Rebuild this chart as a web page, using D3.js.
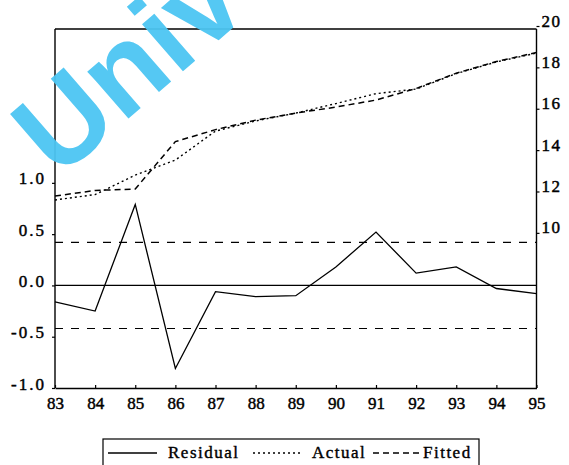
<!DOCTYPE html>
<html>
<head>
<meta charset="utf-8">
<script src="https://cdn.jsdelivr.net/npm/d3@7"></script>
<style>
  html, body { margin: 0; padding: 0; background: #fff; }
  svg { display: block; }
</style>
</head>
<body>
<svg id="chart" width="569" height="465"></svg>
<script>
// ---- data ----
const years = [83, 84, 85, 86, 87, 88, 89, 90, 91, 92, 93, 94, 95];
const residual = [-0.16, -0.25, 0.79, -0.81, -0.06, -0.11, -0.10, 0.18, 0.52, 0.12, 0.18, -0.03, -0.08];
const actual   = [11.59, 11.85, 12.79, 13.52, 14.92, 15.41, 15.79, 16.25, 16.73, 16.95, 17.70, 18.26, 18.69];
const fitted   = [11.78, 12.05, 12.12, 14.41, 14.99, 15.45, 15.79, 16.08, 16.42, 16.98, 17.72, 18.28, 18.72];
const seBand = [0.42, -0.42];
const leftTicks = [-1.0, -0.5, 0.0, 0.5, 1.0];
const rightTicks = [10, 12, 14, 16, 18, 20];
const legendItems = ["Residual", "Actual", "Fitted"];
const watermark = "Univ";

const svg = d3.select("#chart");
const FONT = "'Liberation Serif', 'Times New Roman', serif";

const x = d3.scaleLinear().domain([83, 95]).range([55, 536.5]);
const yL = d3.scaleLinear().domain([-1, 2.5]).range([388, 29]);
const yR = d3.scaleLinear().domain([2.5, 20]).range([388, 26]);

// frame top line
svg.append("line")
  .attr("x1", x(83)).attr("x2", x(95))
  .attr("y1", 29).attr("y2", 29)
  .attr("stroke", "#000").attr("stroke-width", 1.4);

// left axis
const gL = svg.append("g").attr("transform", `translate(${x(83)},0)`)
  .call(d3.axisLeft(yL).tickValues(leftTicks).tickFormat(d => d.toFixed(1))
        .tickSizeInner(3).tickSizeOuter(0).tickPadding(6));
// right axis
const gR = svg.append("g").attr("transform", `translate(${x(95)},0)`)
  .call(d3.axisRight(yR).tickValues(rightTicks).tickFormat(d => d)
        .tickSizeInner(3).tickSizeOuter(0).tickPadding(2));
// bottom axis
const gB = svg.append("g").attr("transform", `translate(0,${yL(-1)})`)
  .call(d3.axisBottom(x).tickValues(years).tickFormat(d => d)
        .tickSizeInner(-3).tickSizeOuter(0).tickPadding(9));

[gL, gR, gB].forEach(g => {
  g.select(".domain").attr("stroke", "#000").attr("stroke-width", 1.4);
  g.selectAll(".tick line").attr("stroke", "#000").attr("stroke-width", 1.2);
  g.selectAll("text").attr("fill", "#000")
    .attr("stroke", "#000").attr("stroke-width", 0.45)
    .style("font-family", FONT).style("font-size", "17px");
});
gL.selectAll("text").attr("dy", 1).style("letter-spacing", "2px");
gR.selectAll("text").attr("dy", 0).style("letter-spacing", "1.5px");
gR.select(".domain").attr("d", `M0,${yR.range()[0]}V29`);
gL.select(".domain").attr("d", `M0,${yL.range()[0]}V29`);

// zero line and +/- SE band
svg.append("line")
  .attr("x1", x(83)).attr("x2", x(95))
  .attr("y1", yL(0)).attr("y2", yL(0))
  .attr("stroke", "#000").attr("stroke-width", 1.2);
seBand.forEach(v => {
  svg.append("line")
    .attr("x1", x(83)).attr("x2", x(95))
    .attr("y1", yL(v)).attr("y2", yL(v))
    .attr("stroke", "#000").attr("stroke-width", 1.2)
    .attr("stroke-dasharray", "8,8");
});

// series
const lineL = d3.line().x((d, i) => x(years[i])).y(d => yL(d));
const lineR = d3.line().x((d, i) => x(years[i])).y(d => yR(d));

svg.append("path").datum(residual).attr("d", lineL)
  .attr("fill", "none").attr("stroke", "#000").attr("stroke-width", 1.3);
svg.append("path").datum(actual).attr("d", lineR)
  .attr("fill", "none").attr("stroke", "#000").attr("stroke-width", 1.4)
  .attr("stroke-dasharray", "2,3");
svg.append("path").datum(fitted).attr("d", lineR)
  .attr("fill", "none").attr("stroke", "#000").attr("stroke-width", 1.5)
  .attr("stroke-dasharray", "6,4");

// legend
const lg = svg.append("g");
lg.append("rect").attr("x", 103).attr("y", 439).attr("width", 376).attr("height", 40)
  .attr("fill", "none").attr("stroke", "#000").attr("stroke-width", 1.2);
const legSpec = [
  {x1: 108, x2: 157, tx: 168, dash: null, w: 1.3},
  {x1: 253, x2: 303, tx: 312, dash: "2,3", w: 1.4},
  {x1: 373, x2: 420, tx: 423, dash: "6,4", w: 1.5}
];
legendItems.forEach((name, i) => {
  const s = legSpec[i];
  lg.append("line").attr("x1", s.x1).attr("x2", s.x2).attr("y1", 453).attr("y2", 453)
    .attr("stroke", "#000").attr("stroke-width", s.w)
    .attr("stroke-dasharray", s.dash);
  lg.append("text").attr("x", s.tx).attr("y", 458).text(name)
    .style("font-family", FONT).style("font-size", "17px").style("letter-spacing", "1.5px")
    .attr("fill", "#000").attr("stroke", "#000").attr("stroke-width", 0.4);
});

// watermark
svg.append("text")
  .attr("transform", "translate(58,180) rotate(-41)")
  .text(watermark)
  .style("font-family", "'Liberation Sans', Arial, sans-serif")
  .style("font-size", "118px")
  .style("font-weight", "bold")
  .attr("fill", "#4cc6f3")
  .attr("opacity", 0.95);
</script>
</body>
</html>
